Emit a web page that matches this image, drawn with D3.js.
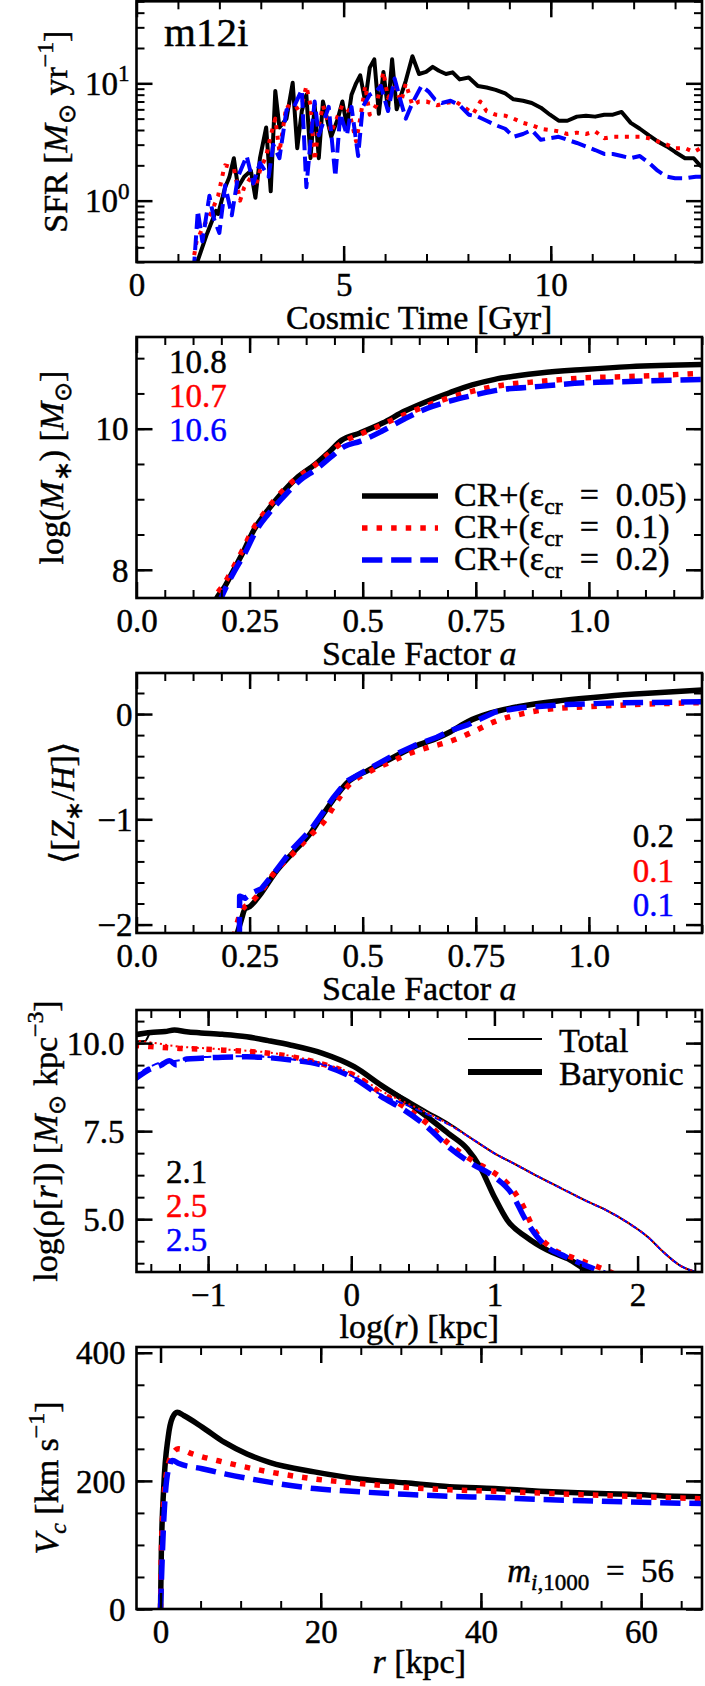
<!DOCTYPE html>
<html><head><meta charset="utf-8">
<script src="https://cdnjs.cloudflare.com/ajax/libs/d3/7.8.5/d3.min.js"></script>
</head><body style="margin:0;background:#fff">
<svg id="c" width="705" height="1686" style="display:block"></svg>
<script>
// ---------------- DATA ----------------
// Panel 1: SFR [Msun/yr] vs cosmic time [Gyr]
const sfrBlack=[[1.40,0.25],[1.48,0.31],[1.70,0.52],[1.92,0.82],[1.97,0.77],[2.14,1.3],[2.24,1.58],[2.35,2.3],[2.45,1.3],[2.60,1.6],[2.76,1.8],[2.87,1.06],[2.98,2.3],[3.13,4.2],[3.24,1.2],[3.35,8.6],[3.45,4.2],[3.62,5],[3.77,10.1],[3.88,2.8],[3.99,5.8],[4.10,8],[4.20,2.3],[4.30,6.5],[4.40,2.3],[4.50,7],[4.70,3.5],[4.86,5],[4.97,7],[5.08,4.3],[5.19,8],[5.30,10],[5.40,11.7],[5.52,7],[5.63,13.6],[5.74,16],[5.85,5.5],[5.96,12.5],[6.07,6],[6.17,16],[6.28,6],[6.39,8],[6.50,10.5],[6.66,17],[6.82,12],[6.99,12.5],[7.15,13.8],[7.30,12.8],[7.47,12],[7.63,12.4],[7.80,10.8],[8.02,11.2],[8.24,9.5],[8.45,9.2],[8.67,8.8],[8.90,8.2],[9.10,7.3],[9.33,7.1],[9.54,6.8],[9.76,6.2],[9.98,5.4],[10.19,4.8],[10.40,4.8],[10.63,5.2],[10.85,5.3],[11.07,5.2],[11.29,5.4],[11.50,5.4],[11.71,5.7],[11.93,4.6],[12.15,4.1],[12.37,3.6],[12.58,3.2],[12.80,2.9],[13.00,2.6],[13.24,2.3],[13.45,2.3],[13.60,2.0],[13.70,1.9]];
const sfrRed=[[1.35,0.28],[1.45,0.45],[1.59,0.58],[1.81,0.8],[1.97,1.1],[2.10,1.8],[2.14,2.0],[2.35,1.9],[2.50,1.0],[2.60,1.3],[2.77,1.6],[2.87,1.3],[2.98,1.8],[3.13,2.4],[3.24,3.6],[3.35,5],[3.45,2.6],[3.62,6.5],[3.80,5.9],[3.99,6.5],[4.10,9.5],[4.20,6.5],[4.30,2.2],[4.40,4.3],[4.50,6.5],[4.70,3.8],[4.86,5.3],[4.97,6.5],[5.13,5.8],[5.30,3.2],[5.40,5],[5.52,9.5],[5.63,5.4],[5.79,6.5],[5.96,12.5],[6.07,7.5],[6.23,9.2],[6.39,7],[6.50,10],[6.66,6.5],[6.82,7],[7.00,7],[7.26,6.5],[7.47,6.8],[7.70,7.0],[7.90,6.3],[8.13,5.5],[8.30,7.0],[8.45,5.8],[8.67,5.4],[8.90,5.3],[9.10,5.0],[9.33,4.6],[9.54,4.4],[9.76,4.1],[9.98,4.0],[10.19,3.9],[10.40,3.7],[10.63,3.8],[10.85,3.7],[11.07,3.9],[11.29,3.4],[11.50,3.5],[11.71,3.5],[11.93,3.5],[12.15,3.5],[12.37,3.4],[12.58,3.2],[12.80,3.0],[13.00,2.8],[13.24,2.8],[13.45,2.6],[13.70,2.9]];
const sfrBlue=[[1.38,0.25],[1.48,0.82],[1.59,0.45],[1.76,1.1],[1.87,0.7],[2.00,0.53],[2.14,1.35],[2.30,0.75],[2.45,1.6],[2.66,2.4],[2.82,1.4],[2.98,2.1],[3.19,1.6],[3.30,3.0],[3.45,2.3],[3.62,5.9],[3.80,6.3],[3.99,8.8],[4.10,1.3],[4.20,3.2],[4.30,7],[4.40,3.6],[4.64,6.3],[4.80,1.6],[4.92,5.5],[5.08,3.6],[5.19,6.3],[5.35,2.4],[5.46,6.3],[5.63,8],[5.79,8.6],[5.90,9.5],[6.07,5.8],[6.23,11],[6.39,6.8],[6.50,5],[6.66,6.8],[6.88,9.5],[7.05,8.5],[7.20,7.3],[7.37,6.8],[7.58,7.1],[7.80,6.5],[8.02,5.4],[8.24,5.2],[8.45,4.8],[8.67,4.4],[8.90,4.1],[9.10,3.5],[9.33,3.7],[9.54,4.0],[9.76,3.3],[9.98,3.4],[10.19,3.5],[10.40,3.3],[10.63,3.1],[10.85,2.9],[11.07,2.7],[11.29,2.5],[11.50,2.5],[11.71,2.4],[11.93,2.3],[12.15,2.4],[12.37,2.1],[12.58,1.8],[12.80,1.6],[13.00,1.55],[13.24,1.55],[13.50,1.6],[13.70,1.6]];
const sfrXTicks=[0,5,10];
const sfrYTicks=[1,10];
const sfrYExp=["0","1"];

// Panel 2: log stellar mass vs scale factor
const mstarBlack=[[0.17,7.5],[0.175,7.57],[0.195,7.76],[0.215,8.0],[0.235,8.24],[0.26,8.57],[0.285,8.8],[0.315,9.04],[0.354,9.3],[0.394,9.49],[0.424,9.66],[0.454,9.84],[0.494,9.94],[0.544,10.08],[0.593,10.25],[0.643,10.39],[0.692,10.51],[0.742,10.62],[0.792,10.7],[0.842,10.75],[0.892,10.79],[0.99,10.84],[1.09,10.88],[1.26,10.91]];
const mstarRed=[[0.165,7.5],[0.172,7.6],[0.193,7.79],[0.213,8.02],[0.233,8.26],[0.258,8.58],[0.283,8.81],[0.313,9.05],[0.352,9.29],[0.392,9.47],[0.424,9.64],[0.454,9.8],[0.494,9.92],[0.544,10.06],[0.593,10.2],[0.643,10.33],[0.692,10.44],[0.742,10.53],[0.792,10.6],[0.892,10.67],[0.99,10.72],[1.09,10.74],[1.26,10.79]];
const mstarBlue=[[0.18,7.5],[0.2,7.78],[0.22,8.02],[0.24,8.24],[0.265,8.56],[0.29,8.78],[0.32,9.0],[0.36,9.26],[0.4,9.44],[0.43,9.6],[0.46,9.75],[0.494,9.82],[0.544,9.97],[0.593,10.14],[0.643,10.29],[0.692,10.39],[0.742,10.47],[0.792,10.54],[0.892,10.6],[0.99,10.65],[1.09,10.67],[1.26,10.7]];
const mstarLabels=["10.8","10.7","10.6"];
const aTicks=[0,0.25,0.5,0.75,1.0];
const aTickLabels=["0.0","0.25","0.5","0.75","1.0"];
const mstarYTicks=[8,10];
const legendNames=["0.05","0.1","0.2"];

// Panel 3: stellar metallicity vs scale factor
const zBlack=[[0.22,-2.12],[0.225,-2.05],[0.232,-1.95],[0.24,-1.85],[0.25,-1.83],[0.276,-1.70],[0.306,-1.51],[0.345,-1.32],[0.385,-1.13],[0.405,-1.0],[0.434,-0.82],[0.464,-0.66],[0.514,-0.53],[0.564,-0.42],[0.614,-0.31],[0.664,-0.23],[0.693,-0.17],[0.733,-0.07],[0.783,0.01],[0.843,0.07],[0.942,0.13],[1.04,0.17],[1.14,0.2],[1.26,0.23]];
const zRed=[[0.215,-2.12],[0.225,-1.95],[0.235,-1.85],[0.25,-1.8],[0.276,-1.68],[0.306,-1.5],[0.345,-1.33],[0.385,-1.15],[0.415,-1.02],[0.44,-0.85],[0.464,-0.7],[0.514,-0.55],[0.564,-0.45],[0.594,-0.39],[0.643,-0.32],[0.693,-0.26],[0.743,-0.17],[0.793,-0.07],[0.85,0.0],[0.9,0.04],[1.0,0.07],[1.1,0.09],[1.26,0.11]];
const zBlue=[[0.2275,-2.12],[0.228,-1.73],[0.24,-1.75],[0.255,-1.7],[0.276,-1.66],[0.306,-1.5],[0.345,-1.28],[0.385,-1.1],[0.405,-0.98],[0.434,-0.8],[0.464,-0.64],[0.514,-0.52],[0.564,-0.4],[0.614,-0.3],[0.664,-0.22],[0.693,-0.16],[0.733,-0.1],[0.793,0.02],[0.85,0.06],[0.95,0.09],[1.05,0.105],[1.26,0.117]];
const zLabels=["0.2","0.1","0.1"];
const zYTicks=[-2,-1,0];

// Panel 4: density profiles, log r [kpc] vs log rho
const rhoBarBlack=[[-1.52,10.23],[-1.4,10.3],[-1.3,10.33],[-1.235,10.37],[-1.15,10.32],[-1.05,10.29],[-0.9,10.25],[-0.73,10.18],[-0.58,10.07],[-0.42,9.94],[-0.2,9.71],[0.02,9.33],[0.21,8.8],[0.37,8.38],[0.53,7.91],[0.68,7.43],[0.81,7.0],[0.9,6.48],[1.0,5.63],[1.09,4.97],[1.22,4.5],[1.37,4.12],[1.53,3.84],[1.66,3.5],[1.75,3.3]];
const rhoBarRed=[[-1.52,9.94],[-1.4,9.9],[-1.2,9.85],[-1.05,9.83],[-0.89,9.8],[-0.575,9.71],[-0.4,9.6],[-0.26,9.47],[-0.1,9.28],[0.02,9.09],[0.21,8.58],[0.37,8.19],[0.53,7.72],[0.68,7.15],[0.84,6.68],[1.0,6.31],[1.09,6.02],[1.19,5.45],[1.28,4.69],[1.4,4.18],[1.56,3.89],[1.72,3.65],[1.81,3.5],[1.9,3.3]];
const rhoBarBlue=[[-1.52,8.95],[-1.42,9.23],[-1.33,9.37],[-1.27,9.5],[-1.22,9.38],[-1.15,9.55],[-1.05,9.57],[-0.9,9.6],[-0.73,9.61],[-0.42,9.52],[-0.2,9.37],[0.02,9.0],[0.21,8.48],[0.37,8.1],[0.53,7.62],[0.68,7.05],[0.84,6.58],[1.0,6.2],[1.12,5.73],[1.22,4.97],[1.34,4.31],[1.5,3.93],[1.66,3.65],[1.75,3.5],[1.85,3.3]];
const rhoTotBlack=[[-1.52,10.05],[-1.44,10.06],[-1.4,10.3],[-1.3,10.34],[-1.235,10.38],[-1.15,10.33],[-1.05,10.3],[-0.9,10.26],[-0.73,10.19],[-0.58,10.08],[-0.42,9.95],[-0.2,9.72],[0.02,9.35],[0.21,8.83],[0.37,8.45],[0.53,8.07],[0.68,7.73],[0.84,7.29],[1.0,6.87],[1.16,6.53],[1.31,6.2],[1.47,5.87],[1.63,5.54],[1.78,5.26],[1.94,4.88],[2.07,4.5],[2.19,4.03],[2.31,3.65],[2.4,3.5],[2.5,3.3]];
const rhoTotRed=[[-1.52,10.08],[-1.4,10.02],[-1.2,9.9],[-1.05,9.86],[-0.89,9.82],[-0.575,9.73],[-0.4,9.62],[-0.26,9.49],[-0.1,9.3],[0.02,9.12],[0.21,8.64],[0.37,8.33],[0.53,8.02],[0.68,7.7],[0.84,7.29],[1.0,6.87],[1.16,6.53],[1.31,6.2],[1.47,5.87],[1.63,5.54],[1.78,5.26],[1.94,4.88],[2.07,4.5],[2.19,4.03],[2.31,3.65],[2.4,3.5],[2.5,3.3]];
const rhoTotBlue=[[-1.52,9.05],[-1.42,9.3],[-1.33,9.45],[-1.22,9.5],[-1.05,9.6],[-0.9,9.62],[-0.73,9.63],[-0.42,9.54],[-0.2,9.39],[0.02,9.03],[0.21,8.53],[0.37,8.27],[0.53,7.98],[0.68,7.69],[0.84,7.29],[1.0,6.87],[1.16,6.53],[1.31,6.2],[1.47,5.87],[1.63,5.54],[1.78,5.26],[1.94,4.88],[2.07,4.5],[2.19,4.03],[2.31,3.65],[2.4,3.5],[2.5,3.3]];
const rhoLabels=["2.1","2.5","2.5"];
const rhoXTicks=[-1,0,1,2];
const rhoXLabels=["\u22121","0","1","2"];
const rhoYTicks=[5.0,7.5,10.0];

// Panel 5: circular velocity vs r [kpc]
const vcBlack=[[0,0],[0.1,87],[0.4,190],[0.95,268],[1.5,299],[2.08,307],[2.9,302],[5.2,284],[8,260],[10.8,242],[13.6,229],[19.2,214],[24.8,203],[30.5,197],[36.1,191],[41.7,188],[47.3,184],[52.9,181],[58.6,179],[64.2,176],[68,175]];
const vcRed=[[0,0],[0.1,87],[0.4,170],[0.8,216],[1.5,242],[2.2,250],[4,242],[8,229],[13.6,214],[19.2,203],[24.8,196],[30.5,190],[36.1,186],[41.7,184],[47.3,181],[52.9,178.5],[58.6,176],[68,172]];
const vcBlue=[[0,0],[0.4,138],[0.95,216],[1.5,232],[2.3,227],[5.2,219],[8,211],[13.6,198],[19.2,188],[24.8,183],[30.5,179],[36.1,176],[41.7,174],[47.3,171],[52.9,169],[58.6,167],[68,164.5]];
const vcXTicks=[0,20,40,60];
const vcYTicks=[0,200,400];

// ---------------- DRAWING ----------------
const TICKFS=33, TITLEFS=34, ANNFS=33;
const L=136.5, R=702;
const BLACK="#000", RED="#ff0000", BLUE="#0000ff";
const svg=d3.select("#c");

function rich(sel, parts, size){
  let shift=0;
  parts.forEach(p=>{
    const t=p[0], st=p[1]||"";
    const ts=sel.append("tspan").text(t);
    let target=0, fs=size;
    if(st.indexOf("sub")>=0){target=0.24*size; fs=size*0.7;}
    if(st.indexOf("sup")>=0){target=-0.42*size; fs=size*0.7;}
    if(st.indexOf("i")>=0) ts.style("font-style","italic");
    ts.attr("font-size",fs);
    if(target!==shift){ts.attr("dy",target-shift); shift=target;}
  });
}

function range(a,b,s){const out=[];for(let v=a;v<=b+1e-9;v+=s)out.push(+v.toFixed(6));return out;}

function styleFor(kind,lw){
  if(kind==="dot") return {dash:`${lw} ${lw*1.65}`,cap:"butt"};
  if(kind==="dash") return {dash:`${lw*3.7} ${lw*1.6}`,cap:"butt"};
  return {dash:null,cap:"round"};
}

let clipN=0;
function panel(o){
  const g=svg.append("g");
  const x=o.x.range([L,R]);
  const y=o.y.range([o.bottom,o.top]);
  const id="clip"+(clipN++);
  svg.append("clipPath").attr("id",id).append("rect")
    .attr("x",L).attr("y",o.top).attr("width",R-L).attr("height",o.bottom-o.top);
  const dg=g.append("g").attr("clip-path",`url(#${id})`);
  o.series.forEach(s=>{
    const st=styleFor(s.kind,s.lw);
    const line=d3.line().x(d=>x(d[0])).y(d=>y(d[1])).curve(s.curve||d3.curveLinear);
    dg.append("path").datum(s.data).attr("d",line)
      .attr("fill","none").attr("stroke",s.color).attr("stroke-width",s.lw)
      .attr("stroke-dasharray",st.dash).attr("stroke-linecap",st.cap).attr("stroke-linejoin","round");
  });
  const xd=x.domain(), yd=y.domain();
  const inX=v=>v>=Math.min(...xd)-1e-9&&v<=Math.max(...xd)+1e-9;
  const inY=v=>v>=Math.min(...yd)-1e-9&&v<=Math.max(...yd)+1e-9;
  const mk=(fn,scale,vals,size,tr)=>{
    const a=fn(scale).tickValues(vals).tickSizeInner(-size).tickSizeOuter(0).tickFormat(()=> "");
    const gg=g.append("g").attr("transform",tr).call(a);
    gg.select(".domain").remove();
    gg.selectAll("line").attr("stroke","#000").attr("stroke-width",size>10?2.5:2);
    return gg;
  };
  const xMin=o.xMinor.filter(inX), yMin=o.yMinor.filter(inY);
  mk(d3.axisBottom,x,xMin,8,`translate(0,${o.bottom})`);
  mk(d3.axisTop,x,xMin,8,`translate(0,${o.top})`);
  mk(d3.axisLeft,y,yMin,8,`translate(${L},0)`);
  mk(d3.axisRight,y,yMin,8,`translate(${R},0)`);
  const bx=mk(d3.axisBottom,x,o.xMajor,16,`translate(0,${o.bottom})`);
  mk(d3.axisTop,x,o.xMajor,16,`translate(0,${o.top})`);
  const ly=mk(d3.axisLeft,y,o.yMajor,16,`translate(${L},0)`);
  mk(d3.axisRight,y,o.yMajor,16,`translate(${R},0)`);
  bx.attr("font-size",TICKFS);
  bx.selectAll("text").attr("y",34).attr("dy",null).attr("fill","#000")
    .each(function(d,i){ d3.select(this).text(o.xLabels[i]); });
  ly.attr("font-size",TICKFS);
  ly.selectAll("text").attr("x",-o.yPad).attr("dy","0.34em").attr("fill","#000")
    .each(function(d,i){
      const t=d3.select(this); t.text(null);
      const lab=o.yLabels[i];
      if(Array.isArray(lab)) rich(t,lab,TICKFS); else t.text(lab);
    });
  g.append("rect").attr("x",L).attr("y",o.top).attr("width",R-L).attr("height",o.bottom-o.top)
    .attr("fill","none").attr("stroke","#000").attr("stroke-width",2.6);
  const xt=g.append("text").attr("x",(L+R)/2).attr("y",o.bottom+o.xTitleDy).attr("text-anchor","middle")
    .attr("font-size",TITLEFS).attr("fill","#000");
  rich(xt,o.xTitle,TITLEFS);
  const yc=(o.top+o.bottom)/2;
  const yt=g.append("text").attr("transform",`translate(${o.yTitleX},${yc}) rotate(-90)`)
    .attr("text-anchor","middle").attr("font-size",TITLEFS).attr("fill","#000");
  rich(yt,o.yTitle,TITLEFS);
  return {g,x,y};
}

// Panel 1
const p1=panel({
  top:1.3,bottom:262,
  x:d3.scaleLinear().domain([0,13.65]), y:d3.scaleLog().domain([0.3,50]),
  xMajor:sfrXTicks, xLabels:sfrXTicks.map(String), xMinor:range(0,13,1),
  yMajor:sfrYTicks, yLabels:sfrYTicks.map((v,i)=>[["10"],[sfrYExp[i],"sup"]]),
  yMinor:[0.3,0.4,0.5,0.6,0.7,0.8,0.9,2,3,4,5,6,7,8,9,20,30,40,50],
  yPad:7,
  series:[
    {data:sfrBlack,color:BLACK,lw:4,kind:"solid"},
    {data:sfrRed,color:RED,lw:4,kind:"dot"},
    {data:sfrBlue,color:BLUE,lw:4,kind:"dash"}],
  xTitle:[["Cosmic Time [Gyr]"]], xTitleDy:67,
  yTitle:[["SFR ["],["M","i"],["\u2299","sub"],[" yr"],["\u22121","sup"],["]"]], yTitleX:67
});
p1.g.append("text").attr("x",164).attr("y",46).attr("font-size",41).attr("fill","#000").text("m12i");

// Panel 2
const p2=panel({
  top:337,bottom:598,
  x:d3.scaleLinear().domain([0,1.25]), y:d3.scaleLinear().domain([7.6,11.3]),
  xMajor:aTicks, xLabels:aTickLabels, xMinor:range(0,1.25,0.0625),
  yMajor:mstarYTicks, yLabels:mstarYTicks.map(String), yMinor:range(7.5,11.5,0.5),
  yPad:8,
  series:[
    {data:mstarBlack,color:BLACK,lw:5.5,kind:"solid",curve:d3.curveMonotoneX},
    {data:mstarRed,color:RED,lw:5.5,kind:"dot",curve:d3.curveMonotoneX},
    {data:mstarBlue,color:BLUE,lw:5.5,kind:"dash",curve:d3.curveMonotoneX}],
  xTitle:[["Scale Factor "],["a","i"]], xTitleDy:67,
  yTitle:[["log("],["M","i"],["\u2217","sub"],[")  ["],["M","i"],["\u2299","sub"],["]"]], yTitleX:63
});
[BLACK,RED,BLUE].forEach((c,i)=>{
  p2.g.append("text").attr("x",169).attr("y",373+34*i).attr("font-size",ANNFS).attr("fill",c).text(mstarLabels[i]);
});
[[BLACK,"solid"],[RED,"dot"],[BLUE,"dash"]].forEach((s,i)=>{
  const ly=496+32*i;
  const st=styleFor(s[1],5.5);
  p2.g.append("line").attr("x1",362).attr("x2",438).attr("y1",ly).attr("y2",ly)
    .attr("stroke",s[0]).attr("stroke-width",5.5).attr("stroke-dasharray",st.dash).attr("stroke-linecap","butt");
  const t=p2.g.append("text").attr("x",454).attr("y",ly+10).attr("font-size",34).attr("fill","#000");
  rich(t,[["CR+(\u025B"],["cr","sub"],["\u2002=\u2002"+legendNames[i]+")"]],34);
});

// Panel 3
const p3=panel({
  top:673,bottom:933,
  x:d3.scaleLinear().domain([0,1.25]), y:d3.scaleLinear().domain([-2.08,0.39]),
  xMajor:aTicks, xLabels:aTickLabels, xMinor:range(0,1.25,0.0625),
  yMajor:zYTicks, yLabels:zYTicks.map(v=>v<0?"\u2212"+(-v):String(v)), yMinor:range(-2,0.4,0.2),
  yPad:4,
  series:[
    {data:zBlack,color:BLACK,lw:5.5,kind:"solid",curve:d3.curveMonotoneX},
    {data:zRed,color:RED,lw:5.5,kind:"dot",curve:d3.curveMonotoneX},
    {data:zBlue,color:BLUE,lw:5.5,kind:"dash",curve:d3.curveLinear}],
  xTitle:[["Scale Factor "],["a","i"]], xTitleDy:67,
  yTitle:[["\u27E8["],["Z","i"],["\u2217","sub"],["/"],["H","i"],["]\u27E9"]], yTitleX:74
});
[BLACK,RED,BLUE].forEach((c,i)=>{
  p3.g.append("text").attr("x",674).attr("y",847+34.5*i).attr("text-anchor","end").attr("font-size",ANNFS).attr("fill",c).text(zLabels[i]);
});

// Panel 4
const p4=panel({
  top:1010,bottom:1272,
  x:d3.scaleLinear().domain([-1.5,2.45]), y:d3.scaleLinear().domain([3.5,10.94]),
  xMajor:rhoXTicks, xLabels:rhoXLabels, xMinor:range(-1.4,2.4,0.2),
  yMajor:rhoYTicks, yLabels:rhoYTicks.map(v=>v.toFixed(1)), yMinor:range(3.75,10.625,0.625),
  yPad:12,
  series:[
    {data:rhoBarBlack,color:BLACK,lw:5.5,kind:"solid",curve:d3.curveMonotoneX},
    {data:rhoBarRed,color:RED,lw:5.5,kind:"dot",curve:d3.curveMonotoneX},
    {data:rhoBarBlue,color:BLUE,lw:5.5,kind:"dash",curve:d3.curveMonotoneX},
    {data:rhoTotBlack,color:BLACK,lw:2,kind:"solid",curve:d3.curveMonotoneX},
    {data:rhoTotBlue,color:BLUE,lw:2,kind:"dash",curve:d3.curveMonotoneX},
    {data:rhoTotRed,color:RED,lw:2,kind:"dot",curve:d3.curveMonotoneX}],
  xTitle:[["log("],["r","i"],[") [kpc]"]], xTitleDy:66,
  yTitle:[["log(\u03C1["],["r","i"],["])   ["],["M","i"],["\u2299","sub"],[" kpc"],["\u22123","sup"],["]"]], yTitleX:57
});
[BLACK,RED,BLUE].forEach((c,i)=>{
  p4.g.append("text").attr("x",166).attr("y",1183+34*i).attr("font-size",ANNFS).attr("fill",c).text(rhoLabels[i]);
});
[[2,"Total",1039],[6,"Baryonic",1072]].forEach(s=>{
  p4.g.append("line").attr("x1",468).attr("x2",542).attr("y1",s[2]).attr("y2",s[2])
    .attr("stroke","#000").attr("stroke-width",s[0]);
  p4.g.append("text").attr("x",559).attr("y",s[2]+13).attr("font-size",TITLEFS).attr("fill","#000").text(s[1]);
});

// Panel 5
const p5=panel({
  top:1347,bottom:1609,
  x:d3.scaleLinear().domain([-3,67.6]), y:d3.scaleLinear().domain([0,409]),
  xMajor:vcXTicks, xLabels:vcXTicks.map(String), xMinor:range(0,65,5),
  yMajor:vcYTicks, yLabels:vcYTicks.map(String), yMinor:range(0,400,50),
  yPad:11,
  series:[
    {data:vcBlack,color:BLACK,lw:5.5,kind:"solid",curve:d3.curveMonotoneX},
    {data:vcRed,color:RED,lw:5.5,kind:"dot",curve:d3.curveMonotoneX},
    {data:vcBlue,color:BLUE,lw:5.5,kind:"dash",curve:d3.curveMonotoneX}],
  xTitle:[["r","i"],[" [kpc]"]], xTitleDy:64,
  yTitle:[["V","i"],["c","isub"],["   [km s"],["\u22121","sup"],["]"]], yTitleX:58
});
const mt=p5.g.append("text").attr("x",674).attr("y",1582).attr("text-anchor","end").attr("font-size",ANNFS).attr("fill","#000");
rich(mt,[["m","i"],["i","isub"],[",1000","sub"],["\u2002=\u200256"]],ANNFS);

// serif font on every text node, slightly heavier strokes like the reference raster
svg.selectAll("g").attr("font-family",null);
svg.selectAll("text").style("font-family","\"Liberation Serif\"")
  .each(function(){ const f=d3.select(this).attr("fill")||"#000"; d3.select(this).attr("stroke",f).attr("stroke-width",0.45); });
svg.selectAll("tspan").style("font-family","\"Liberation Serif\"");
</script>
</body></html>
